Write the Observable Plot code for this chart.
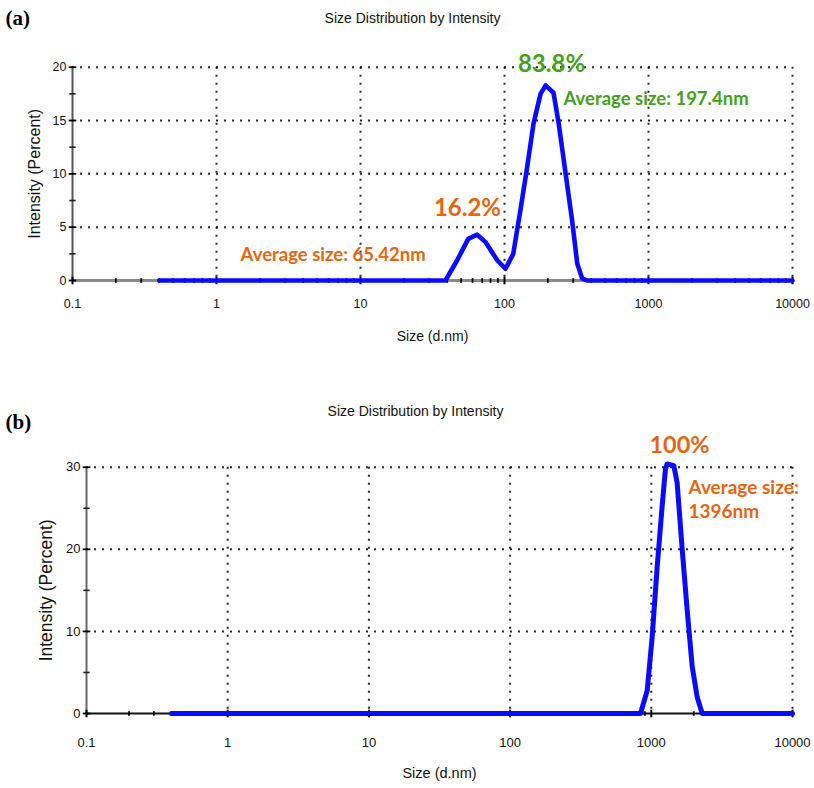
<!DOCTYPE html>
<html>
<head>
<meta charset="utf-8">
<script src="https://cdn.jsdelivr.net/npm/d3@7"></script>
<script src="https://cdn.jsdelivr.net/npm/@observablehq/plot@0.6"></script>
<style>
  body { margin: 0; background: #fff; }
  #chart { position: relative; width: 814px; height: 788px; }
  #chart svg { position: absolute; left: 0; }
</style>
</head>
<body>
<div id="chart"></div>
<script>
// Panel (a): two-population size distribution
const sizeA = [0.4, 38.9, 46.9, 56, 64.6, 73.8, 89, 101.6, 115, 129, 143.6, 159, 178, 193, 219, 238, 264, 295, 320, 346, 375, 10000];
const intensityA = [0, 0, 1.9, 3.9, 4.3, 3.6, 1.9, 1.1, 2.5, 6.6, 10.6, 14.7, 17.5, 18.3, 17.6, 14.7, 10.3, 5.6, 1.6, 0.2, 0, 0];
const peakPctA = ["16.2%", "83.8%"];
const avgSizeA = ["65.42nm", "197.4nm"];

// Panel (b): single population
const sizeB = [0.4, 839, 935, 1014, 1101, 1194, 1260, 1296, 1443, 1524, 1655, 1795, 1949, 2113, 2292, 10000];
const intensityB = [0, 0, 2.8, 9.3, 17.9, 25.3, 29.8, 30.4, 30.2, 28.1, 20, 12.6, 5.7, 2, 0, 0];
const peakPctB = ["100%"];
const avgSizeB = ["1396nm"];

// Axis ticks
const xTicks = [0.1, 1, 10, 100, 1000, 10000];
const yTicksA = [0, 5, 10, 15, 20];
const yMinorA = [2.5, 7.5, 12.5, 17.5];
const yTicksB = [0, 10, 20, 30];
const yMinorB = [5, 15, 25];

const title = "Size Distribution by Intensity";
const xLabel = "Size (d.nm)";
const yLabel = "Intensity (Percent)";

const ORANGE = "#e8650e";
const GREEN = "#45a01b";
const BLUE = "#0a0aff";

// minor ticks 2..9 within each decade
const xMinor = [];
for (let e = -1; e < 4; e++) for (let k = 2; k <= 9; k++) xMinor.push(+(k * 10 ** e).toPrecision(3));

// short tick symbols
const hTick = { draw(ctx, size) { const r = Math.sqrt(size / Math.PI); ctx.moveTo(-r, 0); ctx.lineTo(r, 0); } };
const vTick = { draw(ctx, size) { const r = Math.sqrt(size / Math.PI); ctx.moveTo(0, -r); ctx.lineTo(0, r); } };

const noteFont = "Lato, 'Open Sans', sans-serif";

function panel(cfg) {
  const { sizes, values, yTicks, yMinor, yMax, height, mt, mb, ml, mr,
          xAxisColor, xAxisWidth, yAxisColor, centerNotes, leftNotes, letter,
          tickFont, labelFont, yLabelFont, titleFont, lineWidth,
          tickLabelY, xLabelY, titleY, yLabelX, titleX, letterY } = cfg;
  const frameBottom = height - mb;
  const frameCenter = (ml + 814 - mr) / 2;
  const rows = sizes.map((s, i) => ({ size: s, value: values[i] }));
  const gridStyle = { stroke: "#000", strokeWidth: 2, strokeDasharray: "2,6", strokeOpacity: 0.85 };
  const noteStyle = { x: "x", y: "y", text: "text", fill: "color", fontSize: "size", fontFamily: noteFont, fontWeight: "bold" };
  return Plot.plot({
    width: 814,
    height,
    marginTop: mt, marginBottom: mb, marginLeft: ml, marginRight: mr,
    x: { type: "log", domain: [0.1, 10000], axis: null },
    y: { domain: [0, yMax], axis: null },
    style: { fontFamily: "'Liberation Sans', Arial, sans-serif", overflow: "visible", background: "#fff" },
    marks: [
      Plot.gridX(xTicks.slice(1), gridStyle),
      Plot.gridY(yTicks.slice(1), gridStyle),
      Plot.ruleY([0], { stroke: xAxisColor, strokeWidth: xAxisWidth }),
      Plot.ruleX([0.1], { stroke: yAxisColor, strokeWidth: 2 }),
      Plot.dot(xMinor, { x: d => d, y: 0, symbol: vTick, r: 2.3, stroke: "#000", strokeWidth: 1.8, fill: "none" }),
      Plot.dot(xTicks, { x: d => d, y: 0, symbol: vTick, r: 3.8, stroke: "#000", strokeWidth: 2, fill: "none" }),
      Plot.dot(yTicks, { x: 0.1, y: d => d, symbol: hTick, r: 3.8, stroke: "#000", strokeWidth: 1.8, fill: "none" }),
      Plot.dot(yMinor, { x: 0.1, y: d => d, symbol: hTick, r: 3.2, stroke: "#222", strokeWidth: 1.6, fill: "none" }),
      Plot.line(rows, { x: "size", y: "value", stroke: BLUE, strokeWidth: lineWidth, strokeLinejoin: "round" }),
      // tick labels
      Plot.text(yTicks, { x: 0.1, y: d => d, text: d => String(d), textAnchor: "end", dx: -6, fontSize: tickFont, fill: "#111" }),
      Plot.text(xTicks, { x: d => d, y: 0, text: d => String(d), dy: tickLabelY - frameBottom, fontSize: tickFont, fill: "#111" }),
      // axis titles and chart title
      Plot.text([xLabel], { frameAnchor: "bottom", textAnchor: "middle", lineAnchor: "middle", dy: xLabelY - frameBottom, fontSize: labelFont, fill: "#111" }),
      Plot.text([yLabel], { frameAnchor: "left", textAnchor: "middle", lineAnchor: "middle", dx: yLabelX - ml, rotate: -90, fontSize: yLabelFont, fill: "#111" }),
      Plot.text([title], { frameAnchor: "top", textAnchor: "middle", lineAnchor: "middle", dx: titleX - frameCenter, dy: titleY - mt, fontSize: titleFont, fill: "#111" }),
      Plot.text([letter], { frameAnchor: "top-left", dx: 5 - ml, dy: letterY - mt, textAnchor: "start", lineAnchor: "middle",
        fontFamily: "'Liberation Serif', 'Times New Roman', serif", fontWeight: "bold", fontSize: 21, fill: "#000" }),
      // peak annotations
      Plot.text(centerNotes, { ...noteStyle, textAnchor: "middle" }),
      Plot.text(leftNotes, { ...noteStyle, textAnchor: "start" })
    ]
  });
}

const svgA = panel({
  sizes: sizeA, values: intensityA, yTicks: yTicksA, yMinor: yMinorA, yMax: 20,
  height: 390, mt: 66.7, mb: 110, ml: 72, mr: 22,
  xAxisColor: "#8a8a8a", xAxisWidth: 3, yAxisColor: "#555", lineWidth: 4.6,
  tickFont: 12.5, labelFont: 14, yLabelFont: 16, titleFont: 14,
  tickLabelY: 303, xLabelY: 336, titleY: 18.5, yLabelX: 34, titleX: 412, letterY: 17.5,
  letter: "(a)",
  centerNotes: [
    { x: 55.3, y: 6.75, text: peakPctA[0], color: ORANGE, size: 24 },
    { x: 212, y: 20.3, text: peakPctA[1], color: GREEN, size: 24 }
  ],
  leftNotes: [
    { x: 1.47, y: 2.34, text: "Average size: " + avgSizeA[0], color: ORANGE, size: 18.5 },
    { x: 257, y: 17.0, text: "Average size: " + avgSizeA[1], color: GREEN, size: 18.5 }
  ]
});
svgA.style.top = "0px";

const svgB = panel({
  sizes: sizeB, values: intensityB, yTicks: yTicksB, yMinor: yMinorB, yMax: 30,
  height: 398, mt: 76.7, mb: 75, ml: 86, mr: 22,
  xAxisColor: "#111", xAxisWidth: 2, yAxisColor: "#666", lineWidth: 5,
  tickFont: 13, labelFont: 14.5, yLabelFont: 17.5, titleFont: 14,
  tickLabelY: 352, xLabelY: 383, titleY: 21, yLabelX: 46, titleX: 415, letterY: 32,
  letter: "(b)",
  centerNotes: [
    { x: 1585, y: 32.6, text: peakPctB[0], color: ORANGE, size: 23.5 }
  ],
  leftNotes: [
    { x: 1834, y: 27.5, text: "Average size:", color: ORANGE, size: 19 },
    { x: 1834, y: 24.5, text: avgSizeB[0], color: ORANGE, size: 19 }
  ]
});
svgB.style.top = "390px";

document.getElementById("chart").append(svgA, svgB);
</script>
</body>
</html>
